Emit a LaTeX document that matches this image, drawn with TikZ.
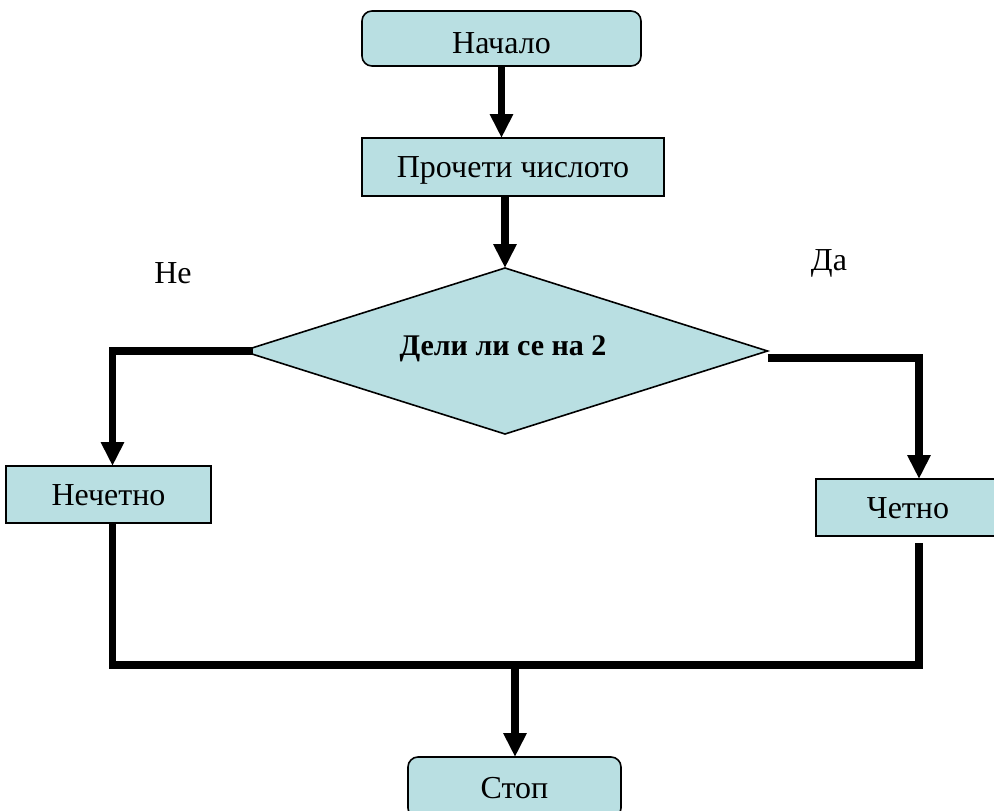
\documentclass[tikz,border=0pt]{standalone}
\usepackage{fontspec}
\setmainfont{Liberation Serif}
\usetikzlibrary{shapes.geometric,arrows.meta}
\definecolor{boxfill}{RGB}{185,223,226}
\begin{document}
\begin{tikzpicture}[x=1pt,y=-1pt,
  every node/.style={font=\fontsize{32}{38}\selectfont, inner sep=0pt, outer sep=0pt},
  procbox/.style={draw=black, line width=1.6pt, fill=boxfill, text height=21pt, text depth=0pt},
  termbox/.style={procbox, rounded corners=10pt},
  decbox/.style={draw=black, line width=1.6pt, fill=boxfill, diamond, aspect=3.16},
  conn/.style={line width=7.5pt, line join=miter},
  arr/.style={conn, -{Triangle[width=22pt,length=24pt]}},
  lbl/.style={anchor=base},
]
\useasboundingbox (0,0) rectangle (994,811);
\clip (0,0) rectangle (994,811);

\node[termbox, minimum width=279pt, minimum height=55pt, text height=29pt] (start) at (501.5,38.5) {Начало};
\node[procbox, minimum width=302pt, minimum height=58pt] (read) at (513,167) {Прочети числото};
\node[decbox, minimum width=525pt, minimum height=166pt] (dec) at (505,351) {};
\node[lbl, font=\fontsize{30}{36}\selectfont\bfseries] (dect) at (503,355) {Дели ли се на 2};
\node[procbox, minimum width=205pt, minimum height=57pt] (odd) at (108.5,494.5) {Нечетно};
\node[procbox, minimum width=184pt, minimum height=57pt] (even) at (908,507.5) {Четно};
\node[termbox, minimum width=213pt, minimum height=61pt] (stop) at (514.5,787.5) {Стоп};

\node[lbl] (no) at (173,283) {Не};
\node[lbl] (yes) at (829,270) {Да};

\coordinate (lc) at (112.5,350);
\coordinate (rc) at (919,358);
\coordinate (ev) at (919,543);
\coordinate (m) at (515,665);

\draw[arr] (start.south) -- (start.south |- read.north);
\draw[arr] (dec.north |- read.south) -- (dec.north);
\draw[arr] ([xshift=10pt]dec.west) -- (dec.west -| lc) -- (lc |- odd.north);
\draw[arr] (dec.east |- rc) -- (rc) -- (rc |- even.north);
\draw[conn] (lc |- odd.south) -- (lc |- m) -- (rc |- m) -- (ev);
\draw[arr] (m) -- (m |- stop.north);
\end{tikzpicture}
\end{document}
